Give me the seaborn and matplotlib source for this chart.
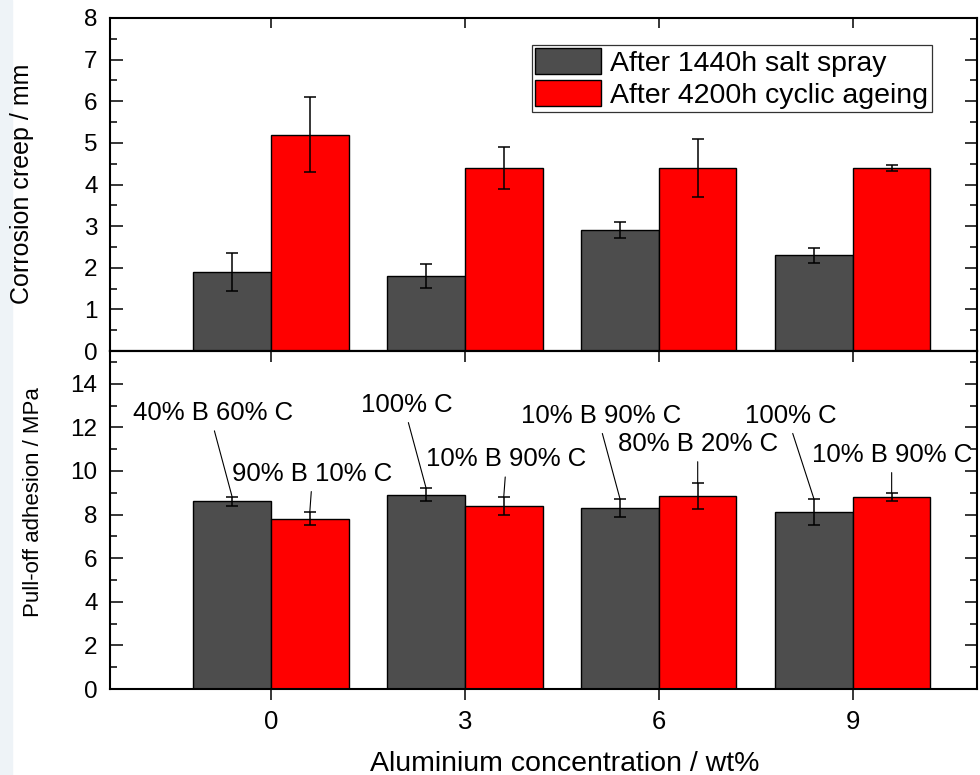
import numpy as np
import pandas as pd
import matplotlib
matplotlib.use('Agg')
import matplotlib.pyplot as plt
import seaborn as sns
from matplotlib.ticker import MultipleLocator
from matplotlib.patches import Rectangle

sns.set_style('ticks')
plt.rcParams['font.family'] = ['Liberation Sans', 'DejaVu Sans']
plt.rcParams['text.color'] = 'black'
plt.rcParams['axes.labelcolor'] = 'black'
plt.rcParams['xtick.color'] = 'black'
plt.rcParams['ytick.color'] = 'black'
plt.rcParams['axes.edgecolor'] = 'black'

# data
conc = ['0', '3', '6', '9']
conditions = ['After 1440h salt spray', 'After 4200h cyclic ageing']
colors = ['#4d4d4d', '#ff0000']

creep_salt = [1.9, 1.8, 2.9, 2.3]
creep_salt_err = [0.45, 0.29, 0.19, 0.18]
creep_cyclic = [5.2, 4.4, 4.4, 4.4]
creep_cyclic_err = [0.9, 0.5, 0.7, 0.07]

adh_salt = [8.6, 8.9, 8.3, 8.1]
adh_salt_err = [0.2, 0.3, 0.4, 0.6]
adh_cyclic = [7.8, 8.4, 8.85, 8.8]
adh_cyclic_err = [0.3, 0.4, 0.6, 0.2]

adh_salt_labels = ['40% B 60% C', '100% C', '10% B 90% C', '100% C']
adh_cyclic_labels = ['90% B 10% C', '10% B 90% C', '80% B 20% C', '10% B 90% C']

# where the annotation texts sit (offset from bar centre, baseline height)
salt_lab_dx = [-0.10, -0.10, -0.10, -0.12]
salt_lab_y = [12.34, 12.72, 12.22, 12.22]
cyc_lab_dx = [0.01, 0.01, 0.0, 0.0]
cyc_lab_y = [9.56, 10.23, 10.93, 10.43]


def long_df(a, b):
    return pd.DataFrame({
        'conc': conc * 2,
        'cond': [conditions[0]] * 4 + [conditions[1]] * 4,
        'value': a + b,
    })


fig = plt.figure(figsize=(9.8, 7.75), dpi=100)
fig.patches.append(Rectangle((0, 0), 12 / 980, 1, transform=fig.transFigure,
                             color='#eef3f7', zorder=-5))
ax1 = fig.add_axes([110 / 980, 1 - 351 / 775, 867 / 980, 333 / 775])
ax2 = fig.add_axes([110 / 980, 1 - 689 / 775, 867 / 980, 338 / 775])

panels = [
    (ax1, creep_salt, creep_salt_err, creep_cyclic, creep_cyclic_err),
    (ax2, adh_salt, adh_salt_err, adh_cyclic, adh_cyclic_err),
]

for ax, s, se, c, ce in panels:
    sns.barplot(data=long_df(s, c), x='conc', y='value', hue='cond',
                order=conc, hue_order=conditions, palette=colors,
                saturation=1, edgecolor='black', linewidth=1,
                errorbar=None, width=0.8, ax=ax)
    for cont, errs in zip(ax.containers, [se, ce]):
        xs = [p.get_x() + p.get_width() / 2 for p in cont]
        ys = [p.get_height() for p in cont]
        ax.errorbar(xs, ys, yerr=errs, fmt='none', ecolor='black',
                    elinewidth=1.1, capsize=4.6, capthick=1.1, zorder=5)
    ax.set_xlim(-0.83, 3.64)
    for sp in ax.spines.values():
        sp.set_visible(True)
        sp.set_linewidth(1.5)
    ax.tick_params(axis='y', which='both', direction='in', left=True,
                   right=True, width=1.1, labelsize=17.5, pad=9)
    ax.tick_params(axis='y', which='major', length=9)
    ax.tick_params(axis='y', which='minor', length=5)
    ax.set_xlabel('')

# top panel
ax1.set_ylim(0, 8)
ax1.yaxis.set_major_locator(MultipleLocator(1))
ax1.yaxis.set_minor_locator(MultipleLocator(0.5))
ax1.tick_params(axis='x', direction='in', top=True, bottom=False,
                labelbottom=False, length=7.5, width=1.1)
ax1.set_ylabel('Corrosion creep / mm', fontsize=18)
ax1.yaxis.set_label_coords(-0.088, 0.503)

h, l = ax1.get_legend_handles_labels()
ax1.legend(h, l, loc='upper right', bbox_to_anchor=(0.948, 0.919),
           borderaxespad=0, fontsize=20.5, frameon=True, fancybox=False,
           framealpha=1, edgecolor='#333333', handlelength=2.3,
           handleheight=1.0, labelspacing=0.12, borderpad=0.12,
           handletextpad=0.35)
ax1.get_legend().get_frame().set_linewidth(0.9)

# bottom panel
ax2.get_legend().remove()
ax2.set_ylim(0, 15.5)
ax2.yaxis.set_major_locator(MultipleLocator(2))
ax2.yaxis.set_minor_locator(MultipleLocator(1))
ax2.tick_params(axis='x', direction='out', length=8, width=1.1,
                labelsize=18.5, pad=7)
sec = ax2.secondary_xaxis('top')
sec.set_xticks([0, 1, 2, 3], labels=[''] * 4)
sec.tick_params(direction='in', length=8, width=1.1)
sec.spines['top'].set_linewidth(1.5)
ax2.set_ylabel('Pull-off adhesion / MPa', fontsize=16)
ax2.yaxis.set_label_coords(-0.076, 0.553)
ax2.set_xlabel('Aluminium concentration / wt%', fontsize=20.5)
ax2.xaxis.set_label_coords(0.524, -0.182)

# composition labels with leader lines to the error bar tops
groups = [
    (ax2.containers[0], adh_salt, adh_salt_err, adh_salt_labels, salt_lab_dx, salt_lab_y),
    (ax2.containers[1], adh_cyclic, adh_cyclic_err, adh_cyclic_labels, cyc_lab_dx, cyc_lab_y),
]
for cont, vals, errs, labs, dxs, tys in groups:
    for p, v, e, lab, dx, ty in zip(cont, vals, errs, labs, dxs, tys):
        xc = p.get_x() + p.get_width() / 2
        ax2.annotate(lab, xy=(xc, v + e), xytext=(xc + dx, ty),
                     ha='center', va='baseline', fontsize=18.5, zorder=6,
                     arrowprops=dict(arrowstyle='-', color='black', lw=0.8,
                                     relpos=(0.5, 0), shrinkA=2, shrinkB=0))

fig.savefig('out.png', dpi=100, facecolor='white')
